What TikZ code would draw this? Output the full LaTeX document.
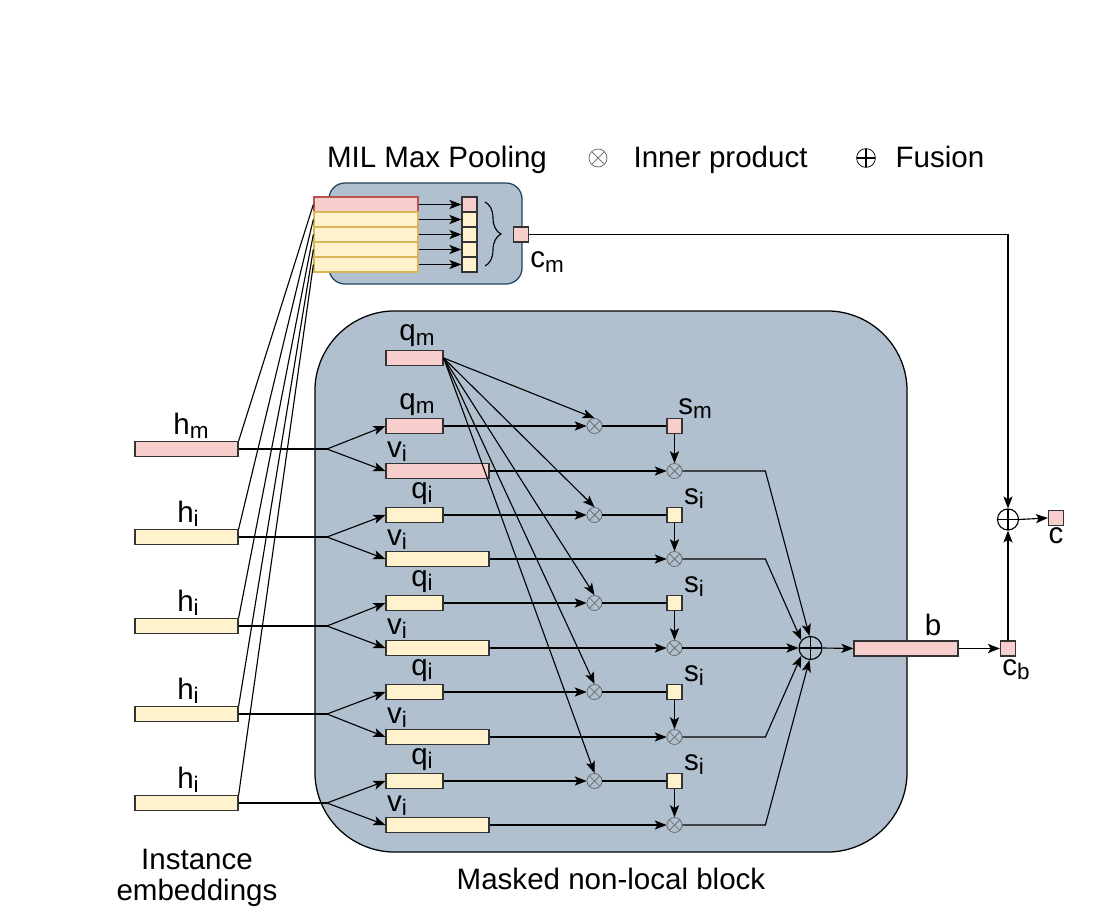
\documentclass[tikz,border=0pt]{standalone}
\usepackage{fontspec}
\setmainfont{Liberation Sans}
\usetikzlibrary{arrows.meta,decorations.pathreplacing}
\definecolor{panelc}{HTML}{B1C0CE}
\definecolor{panelline}{HTML}{23445D}
\definecolor{pinkc}{HTML}{F8CECC}
\definecolor{pinkline}{HTML}{B85450}
\definecolor{yelc}{HTML}{FFF2CC}
\definecolor{yelline}{HTML}{D6B656}
\newcommand{\lbsub}[2]{#1\raisebox{-3pt}{\fontsize{16}{18}\selectfont #2}}

\begin{document}
\begin{tikzpicture}[x=0.025cm,y=-0.025cm,>={Stealth[length=8.5pt,width=6.5pt,inset=2pt]},
line width=0.8pt,font=\fontsize{21}{24}\selectfont,
pbox/.style = {draw=black!80,line width=0.9pt,fill=pinkc,inner sep=0pt,minimum height=0.375cm},
ybox/.style = {draw=black!80,line width=0.9pt,fill=yelc,inner sep=0pt,minimum height=0.375cm},
qwide/.style = {minimum width=1.425cm},
vwide/.style = {minimum width=2.575cm},
sq/.style = {minimum width=0.375cm},
prod/.style = {circle,draw=black!60,line width=0.5pt,minimum size=0.375cm,inner sep=0pt,
  path picture={\draw[black!60,line width=0.5pt]
  (path picture bounding box.north west) -- (path picture bounding box.south east)
  (path picture bounding box.north east) -- (path picture bounding box.south west);}},
fuse/.style = {circle,draw,line width=0.8pt,inner sep=0pt,
  path picture={\draw[line width=0.8pt]
  (path picture bounding box.north) -- (path picture bounding box.south)
  (path picture bounding box.west) -- (path picture bounding box.east);}},
lab/.style = {anchor=base,inner sep=0pt}]

\useasboundingbox (0,0) rectangle (1120,919);

% panels
\node[draw=panelline,fill=panelc,rounded corners=0.4cm,line width=0.9pt,
  minimum width=4.825cm,minimum height=2.525cm] (mil) at (425.5,233.5) {};
\node[draw=black,fill=panelc,rounded corners=2cm,line width=0.9pt,
  minimum width=14.8cm,minimum height=13.525cm] (block) at (611,581.5) {};

% legend
\node[lab] (t1) at (437,168) {MIL Max Pooling};
\node[prod,minimum size=0.45cm] (lgp) at (598,158) {};
\node[lab,anchor=base west] (t2) at (633,168) {Inner product};
\node[fuse,minimum size=0.47cm,line width=0.5pt] (lgf) at (866,158) {};
\node[lab,anchor=base west] (t3) at (895,168) {Fusion};
\node[lab] (t4) at (611,889) {Masked non-local block};
\node[align=center,inner sep=0pt,font=\fontsize{21}{22}\selectfont] (t5) at (197,878) {Instance\\embeddings};

% max pooling
\node[pbox,draw=pinkline,minimum width=2.6cm] (m1) at (366,204.5) {};
\node[ybox,draw=yelline,minimum width=2.6cm] (m2) at (366,219.5) {};
\node[ybox,draw=yelline,minimum width=2.6cm] (m3) at (366,234.5) {};
\node[ybox,draw=yelline,minimum width=2.6cm] (m4) at (366,249.5) {};
\node[ybox,draw=yelline,minimum width=2.6cm] (m5) at (366,264.5) {};
\node[pbox,sq] (n1) at (469.5,204.5) {};
\node[ybox,sq] (n2) at (469.5,219.5) {};
\node[ybox,sq] (n3) at (469.5,234.5) {};
\node[ybox,sq] (n4) at (469.5,249.5) {};
\node[ybox,sq] (n5) at (469.5,264.5) {};
\draw[decorate,decoration={brace,amplitude=0.4cm}] (485,202) -- (485,266);
\node[pbox,sq] (cm) at (521,234.5) {};
\node[lab] (lcm) at (547,268) {\lbsub{c}{m}};

% instance embeddings
\node[pbox,vwide] (h1) at (186.5,449) {};
\node[ybox,vwide] (h2) at (186.5,537) {};
\node[ybox,vwide] (h3) at (186.5,626) {};
\node[ybox,vwide] (h4) at (186.5,714) {};
\node[ybox,vwide] (h5) at (186.5,803) {};
\node[lab] (lh1) at (191,434) {\lbsub{h}{m}};
\node[lab] (lh2) at (188,522) {\lbsub{h}{i}};
\node[lab] (lh3) at (188,611) {\lbsub{h}{i}};
\node[lab] (lh4) at (188,699) {\lbsub{h}{i}};
\node[lab] (lh5) at (188,788) {\lbsub{h}{i}};
\coordinate (j1) at (327,449);
\coordinate (j2) at (327,537);
\coordinate (j3) at (327,626);
\coordinate (j4) at (327,714);
\coordinate (j5) at (327,803);

% queries and values
\node[pbox,qwide] (qm) at (414.5,358) {};
\node[lab] (lqm) at (417,341) {\lbsub{q}{m}};
\node[pbox,qwide] (q1) at (414.5,426) {};
\node[ybox,qwide] (q2) at (414.5,515) {};
\node[ybox,qwide] (q3) at (414.5,603) {};
\node[ybox,qwide] (q4) at (414.5,692) {};
\node[ybox,qwide] (q5) at (414.5,781) {};
\node[lab] (lq1) at (417,409) {\lbsub{q}{m}};
\node[lab] (lq2) at (422,498) {\lbsub{q}{i}};
\node[lab] (lq3) at (422,586) {\lbsub{q}{i}};
\node[lab] (lq4) at (422,675) {\lbsub{q}{i}};
\node[lab] (lq5) at (422,764) {\lbsub{q}{i}};
\node[pbox,vwide] (v1) at (437.5,471) {};
\node[ybox,vwide] (v2) at (437.5,559) {};
\node[ybox,vwide] (v3) at (437.5,648) {};
\node[ybox,vwide] (v4) at (437.5,737) {};
\node[ybox,vwide] (v5) at (437.5,825) {};
\node[lab] (lv1) at (397,457) {\lbsub{v}{i}};
\node[lab] (lv2) at (397,545) {\lbsub{v}{i}};
\node[lab] (lv3) at (397,634) {\lbsub{v}{i}};
\node[lab] (lv4) at (397,723) {\lbsub{v}{i}};
\node[lab] (lv5) at (397,811) {\lbsub{v}{i}};

% scores
\node[prod] (p1) at (594.5,426) {};
\node[prod] (p2) at (594.5,515) {};
\node[prod] (p3) at (594.5,603) {};
\node[prod] (p4) at (594.5,692) {};
\node[prod] (p5) at (594.5,781) {};
\node[pbox,sq] (s1) at (674.5,426) {};
\node[ybox,sq] (s2) at (674.5,515) {};
\node[ybox,sq] (s3) at (674.5,603) {};
\node[ybox,sq] (s4) at (674.5,692) {};
\node[ybox,sq] (s5) at (674.5,781) {};
\node[lab] (ls1) at (695,414) {\lbsub{s}{m}};
\node[lab] (ls2) at (694,504) {\lbsub{s}{i}};
\node[lab] (ls3) at (694,592) {\lbsub{s}{i}};
\node[lab] (ls4) at (694,681) {\lbsub{s}{i}};
\node[lab] (ls5) at (694,770) {\lbsub{s}{i}};
\node[prod] (r1) at (674.5,471) {};
\node[prod] (r2) at (674.5,559) {};
\node[prod] (r3) at (674.5,648) {};
\node[prod] (r4) at (674.5,737) {};
\node[prod] (r5) at (674.5,825) {};

% bag output
\node[fuse,minimum size=0.575cm] (sum) at (810.5,648) {};
\node[pbox,minimum width=2.6cm] (b) at (906,648.5) {};
\node[lab] (lb) at (933,635) {b};
\node[pbox,sq] (cb) at (1008,648.5) {};
\node[lab] (lcb) at (1016,675) {\lbsub{c}{b}};
\node[fuse,minimum size=0.525cm] (fus) at (1008,519.5) {};
\node[pbox,sq] (c) at (1056,518) {};
\node[lab] (lc) at (1056,543) {c};

\path[-]
(h1.north east) edge (m1.west)
(h2.north east) edge (m2.west)
(h3.north east) edge (m3.west)
(h4.north east) edge (m4.west)
(h5.north east) edge (m5.west)
(h1.east) edge (j1)
(h2.east) edge (j2)
(h3.east) edge (j3)
(h4.east) edge (j4)
(h5.east) edge (j5)
(p1.east) edge (s1.west)
(p2.east) edge (s2.west)
(p3.east) edge (s3.west)
(p4.east) edge (s4.west)
(p5.east) edge (s5.west);

\path[->]
(m1.east) edge (n1.west)
(m2.east) edge (n2.west)
(m3.east) edge (n3.west)
(m4.east) edge (n4.west)
(m5.east) edge (n5.west)
(j1) edge (q1.west) edge (v1.west)
(j2) edge (q2.west) edge (v2.west)
(j3) edge (q3.west) edge (v3.west)
(j4) edge (q4.west) edge (v4.west)
(j5) edge (q5.west) edge (v5.west)
(qm.east) edge (p1.north) edge (p2.north) edge (p3.north) edge (p4.north) edge (p5.north)
(q1.east) edge (p1.west)
(q2.east) edge (p2.west)
(q3.east) edge (p3.west)
(q4.east) edge (p4.west)
(q5.east) edge (p5.west)
(s1.south) edge (r1.north)
(s2.south) edge (r2.north)
(s3.south) edge (r3.north)
(s4.south) edge (r4.north)
(s5.south) edge (r5.north)
(v1.east) edge (r1.west)
(v2.east) edge (r2.west)
(v3.east) edge (r3.west)
(v4.east) edge (r4.west)
(v5.east) edge (r5.west)
(r3.east) edge (sum.west)
(sum.east) edge (b.west)
(b.east) edge (cb.west)
(cb.north) edge (fus.south)
(fus.east) edge (c.west);

\draw[->] (r1.east) -- ++(83,0) -- (sum.95);
\draw[->] (r2.east) -- ++(83,0) -- (sum.140);
\draw[->] (r4.east) -- ++(83,0) -- (sum.220);
\draw[->] (r5.east) -- ++(83,0) -- (sum.265);
\draw[->] (cm.east) -| (fus.north);
\end{tikzpicture}
\end{document}
